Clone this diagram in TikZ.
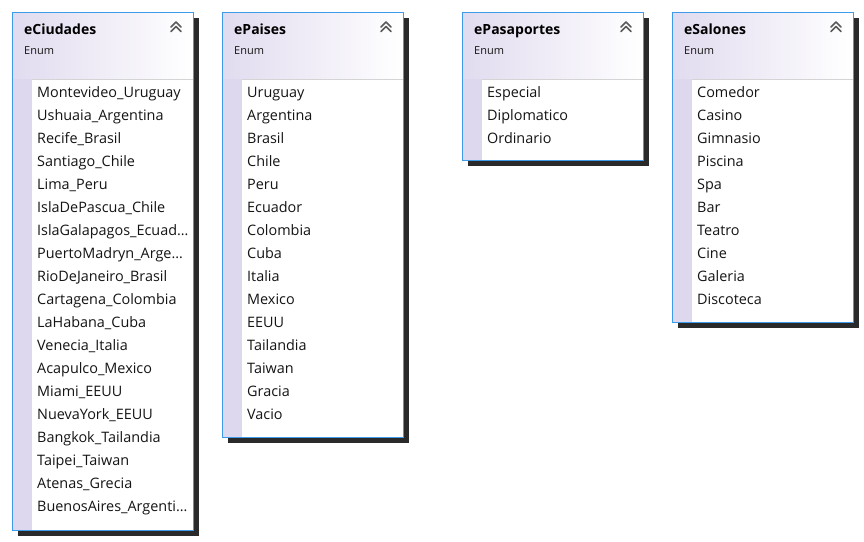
\documentclass[tikz,border=0pt]{standalone}
\usepackage{fontspec}
\setmainfont{Open Sans}
\newfontfamily\itemfont{Open Sans}
\newfontfamily\titlefont{Open Sans}
\definecolor{bordc}{HTML}{3D9BE9}
\definecolor{stripc}{HTML}{DDD8EE}
\definecolor{headc}{HTML}{E1DBEF}
\definecolor{shadc}{HTML}{2A2A2A}
\definecolor{linec}{HTML}{D4D4D4}
\definecolor{chevc}{HTML}{5A5A5A}
\definecolor{textc}{HTML}{141414}
\tikzset{
  itemf/.style={inner sep=0pt, anchor=base west, text=textc, font=\itemfont\fontsize{14.4}{17}\selectfont},
  titlef/.style={inner sep=0pt, anchor=base west, text=black, font=\titlefont\bfseries\fontsize{14}{16}\selectfont},
  enumf/.style={inner sep=0pt, anchor=base west, text=textc, font=\itemfont\fontsize{11}{12}\selectfont},
  chev/.style={draw=chevc, line width=1.6pt, line cap=round, line join=round},
}
\newcommand\enumbox[5]{%
  \fill[shadc] (#2+6,18) rectangle (#2+187,#3+6);
  \shade[left color=headc,right color=white] (#2,12) rectangle (#2+181,79);
  \fill[white] (#2+20,79) rectangle (#2+181,#3);
  \fill[stripc] (#2,79) rectangle (#2+20,#3);
  \draw[linec] (#2+20,79.5) -- (#2+181,79.5);
  \draw[bordc] (#2,12) rectangle (#2+181,#3);
  \node[titlef] (#1t) at (#2+12,34.5) {#4};
  \node[enumf] (#1e) at (#2+12,54.5) {Enum};
  \coordinate (#1c) at (#2+164,22);
  \draw[chev] ([shift={(-5,5)}]#1c) -- (#1c) -- ([shift={(5,5)}]#1c);
  \draw[chev] ([shift={(-5,9.5)}]#1c) -- ([shift={(0,4.5)}]#1c) -- ([shift={(5,9.5)}]#1c);
  \foreach \s [count=\i from 0] in {#5}
    \node[itemf] (#1-\i) at (#2+25,97+23*\i) {\s};
}
\begin{document}
\begin{tikzpicture}[x=1pt,y=-1pt]
\fill[white] (0,0) rectangle (864,541);
\useasboundingbox (0,0) rectangle (864,541);
\enumbox{ciu}{12}{530}{eCiudades}{Montevideo\_Uruguay,Ushuaia\_Argentina,Recife\_Brasil,Santiago\_Chile,Lima\_Peru,IslaDePascua\_Chile,IslaGalapagos\_Ecuad…,PuertoMadryn\_Arge…,RioDeJaneiro\_Brasil,Cartagena\_Colombia,LaHabana\_Cuba,Venecia\_Italia,Acapulco\_Mexico,Miami\_EEUU,NuevaYork\_EEUU,Bangkok\_Tailandia,Taipei\_Taiwan,Atenas\_Grecia,BuenosAires\_Argenti…}
\enumbox{pai}{222}{437}{ePaises}{Uruguay,Argentina,Brasil,Chile,Peru,Ecuador,Colombia,Cuba,Italia,Mexico,EEUU,Tailandia,Taiwan,Gracia,Vacio}
\enumbox{pas}{462}{160}{ePasaportes}{Especial,Diplomatico,Ordinario}
\enumbox{sal}{672}{322}{eSalones}{Comedor,Casino,Gimnasio,Piscina,Spa,Bar,Teatro,Cine,Galeria,Discoteca}
\end{tikzpicture}
\end{document}
